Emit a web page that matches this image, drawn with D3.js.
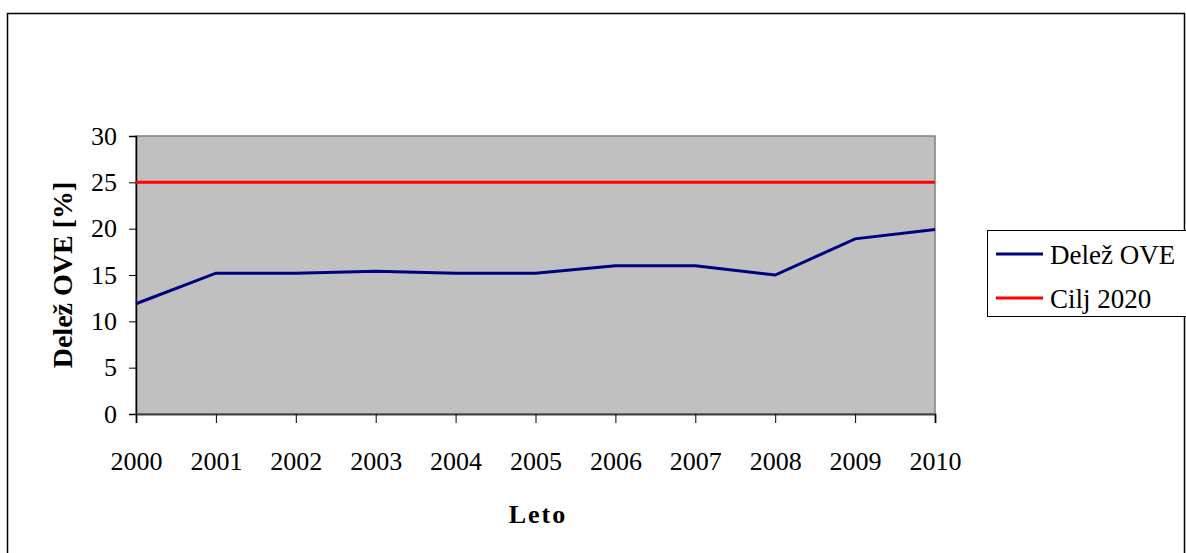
<!DOCTYPE html>
<html>
<head>
<meta charset="utf-8">
<script src="https://cdn.jsdelivr.net/npm/d3@7/dist/d3.min.js"></script>
<style>
  body { margin: 0; background: #fff; }
  text { font-family: "Liberation Serif", "Times New Roman", serif; }
</style>
</head>
<body>
<svg id="chart"></svg>
<script>
// chart data
const years = [2000, 2001, 2002, 2003, 2004, 2005, 2006, 2007, 2008, 2009, 2010];
const share = [11.9, 15.2, 15.2, 15.4, 15.2, 15.2, 16.0, 16.0, 15.0, 18.9, 19.9];
const target = [25, 25, 25, 25, 25, 25, 25, 25, 25, 25, 25];
const yTicks = [0, 5, 10, 15, 20, 25, 30];
const seriesNames = ["Delež OVE", "Cilj 2020"];
const seriesColors = ["#000080", "#ff0000"];

const W = 1186, H = 553;
const svg = d3.select("#chart").attr("width", W).attr("height", H);

// outer frame
svg.append("rect")
    .attr("x", 7.5).attr("y", 13.5)
    .attr("width", 1177).attr("height", 560)
    .attr("fill", "#fff").attr("stroke", "#000").attr("stroke-width", 1.5);

const plot = { left: 136, right: 935, top: 136, bottom: 414 };

const x = d3.scaleLinear().domain([2000, 2010]).range([plot.left, plot.right]);
const y = d3.scaleLinear().domain([0, 30]).range([plot.bottom, plot.top]);

// plot area
svg.append("rect")
    .attr("x", plot.left).attr("y", plot.top)
    .attr("width", plot.right - plot.left).attr("height", plot.bottom - plot.top)
    .attr("fill", "#c0c0c0").attr("stroke", "#808080").attr("stroke-width", 1.5);

const fontTick = 26;

// y axis
const yAxis = svg.append("g")
    .attr("transform", `translate(${plot.left},0)`)
    .call(d3.axisLeft(y).tickValues(yTicks).tickSize(7).tickPadding(12));
yAxis.select(".domain").attr("stroke", "#000").attr("stroke-width", 1.5);
yAxis.selectAll(".tick line").attr("stroke", "#000");
yAxis.selectAll("text").attr("font-size", fontTick).attr("fill", "#000")
    .style("font-family", "'Liberation Serif', serif");

// x axis
const xAxis = svg.append("g")
    .attr("transform", `translate(0,${plot.bottom})`)
    .call(d3.axisBottom(x).tickValues(years).tickFormat(d3.format("d")).tickSize(9).tickPadding(29));
xAxis.select(".domain").attr("stroke", "#404040").attr("stroke-width", 2);
xAxis.selectAll(".tick line").attr("stroke", "#000");
xAxis.selectAll("text").attr("font-size", fontTick).attr("fill", "#000")
    .style("font-family", "'Liberation Serif', serif");

// lines
const line = d3.line().x((d, i) => x(years[i])).y(d => y(d));
[share, target].forEach((vals, k) => {
    svg.append("path")
        .datum(vals)
        .attr("d", line)
        .attr("fill", "none")
        .attr("stroke", seriesColors[k])
        .attr("stroke-width", 3);
});

// axis titles
svg.append("text")
    .attr("x", 538).attr("y", 523)
    .attr("text-anchor", "middle")
    .attr("font-size", 26).attr("font-weight", "bold")
    .attr("letter-spacing", 2)
    .text("Leto");

svg.append("text")
    .attr("transform", `translate(72,${(plot.top + plot.bottom) / 2}) rotate(-90)`)
    .attr("text-anchor", "middle")
    .attr("font-size", 28).attr("font-weight", "bold")
    .text("Delež OVE [%]");

// legend
const legend = svg.append("g");
legend.append("rect")
    .attr("x", 987.5).attr("y", 230.5)
    .attr("width", 200).attr("height", 86)
    .attr("fill", "#fff").attr("stroke", "#000").attr("stroke-width", 1);

seriesNames.forEach((name, i) => {
    const ly = 254 + i * 44;
    legend.append("line")
        .attr("x1", 996).attr("x2", 1043)
        .attr("y1", ly).attr("y2", ly)
        .attr("stroke", seriesColors[i]).attr("stroke-width", 3);
    legend.append("text")
        .attr("x", 1050).attr("y", ly + 10)
        .attr("font-size", 27)
        .text(name);
});
</script>
</body>
</html>
